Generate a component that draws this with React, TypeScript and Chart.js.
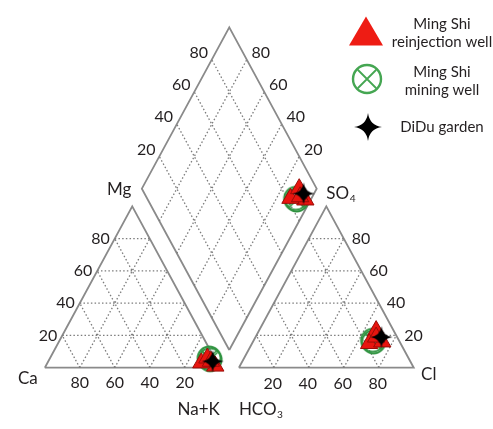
import React, { useEffect, useRef } from "react";
import { Chart, registerables } from "chart.js";

Chart.register(...registerables);

// ---------- data (% meq) ----------
const gridTicks = [20, 40, 60, 80];
const tickLabels = ["20", "40", "60", "80"];

// Ming Shi reinjection well (red triangles)
const reinjCa = [2, 9, 4, 3];
const reinjMg = [1, 3, 6, 4];
const reinjNaK = [97, 88, 90, 93];
const reinjHCO3 = [10, 18, 10, 12];
const reinjSO4 = [23, 15, 16, 19];
const reinjCl = [67, 67, 74, 69];

// Ming Shi mining well (green circle with cross)
const miningCa = [3, 3];
const miningMg = [5, 6];
const miningNaK = [92, 91];
const miningHCO3 = [15, 15];
const miningSO4 = [16, 17];
const miningCl = [69, 68];

// DiDu garden (black star)
const diduCa = [2];
const diduMg = [4];
const diduNaK = [94];
const diduHCO3 = [9];
const diduSO4 = [19];
const diduCl = [72];

const legendNames = [
  ["Ming Shi", "reinjection well"],
  ["Ming Shi", "mining well"],
  ["DiDu garden"],
];

// ---------- geometry (data units) ----------
const H = 86.6025; // triangle height for side 100
const GAP = 11;
const AX = 100 + GAP;
const XMIN = -19.34, XMAX = 250.05, YMIN = -27.0, YMAX = 191.54;

type P = { x: number; y: number };
const catXY = (ca: number, mg: number, nak: number): P => {
  const s = ca + mg + nak;
  const m = (mg / s) * 100, n = (nak / s) * 100;
  return { x: n + m / 2, y: (m * H) / 100 };
};
const anXY = (hco3: number, so4: number, cl: number): P => {
  const s = hco3 + so4 + cl;
  const so = (so4 / s) * 100, c = (cl / s) * 100;
  return { x: AX + c + so / 2, y: (so * H) / 100 };
};
const diaXY = (p1: P, p2: P): P => ({
  x: (p1.x + p2.x) / 2 + (p2.y - p1.y) / (2 * Math.sqrt(3)),
  y: (p1.y + p2.y) / 2 + (Math.sqrt(3) / 2) * (p2.x - p1.x),
});

function seriesPoints(ca: number[], mg: number[], nak: number[], hco3: number[], so4: number[], cl: number[]): P[] {
  const out: P[] = [];
  for (let i = 0; i < ca.length; i++) {
    const p1 = catXY(ca[i], mg[i], nak[i]);
    const p2 = anXY(hco3[i], so4[i], cl[i]);
    out.push(p1, p2, diaXY(p1, p2));
  }
  return out;
}

const GAPPT: P = { x: NaN, y: NaN };
const lerp = (a: P, b: P, f: number): P => ({ x: a.x + (b.x - a.x) * f, y: a.y + (b.y - a.y) * f });

// vertices
const cCa = catXY(100, 0, 0), cNa = catXY(0, 0, 100), cMg = catXY(0, 100, 0);
const aHC = anXY(100, 0, 0), aCl = anXY(0, 0, 100), aSO = anXY(0, 100, 0);
const dB = diaXY(cNa, aHC), dL = diaXY(cMg, aHC), dR = diaXY(cNa, aSO), dT = diaXY(cMg, aSO);

function outlinePts(): P[] {
  return [cCa, cNa, cMg, cCa, GAPPT, aHC, aCl, aSO, aHC, GAPPT, dB, dR, dT, dL, dB];
}
function gridPts(): P[] {
  const pts: P[] = [];
  const seg = (a: P, b: P) => pts.push(a, b, GAPPT);
  for (const k of gridTicks) {
    const r = 100 - k;
    // cation triangle
    seg(catXY(r, k, 0), catXY(0, k, r));
    seg(catXY(k, 0, r), catXY(k, r, 0));
    seg(catXY(r, 0, k), catXY(0, r, k));
    // anion triangle
    seg(anXY(r, k, 0), anXY(0, k, r));
    seg(anXY(k, 0, r), anXY(k, r, 0));
    seg(anXY(r, 0, k), anXY(0, r, k));
    // diamond
    const f = k / 100;
    const p = lerp(dB, dR, f);
    seg(p, { x: p.x + dL.x - dB.x, y: p.y + dL.y - dB.y });
    const q = lerp(dB, dL, f);
    seg(q, { x: q.x + dR.x - dB.x, y: q.y + dR.y - dB.y });
  }
  return pts;
}

// ---------- marker drawing ----------
const GREEN = "#2f9340";
function drawCircleX(g: CanvasRenderingContext2D, cx: number, cy: number, r: number, lw: number, color: string) {
  g.save();
  g.strokeStyle = color;
  g.lineWidth = lw;
  g.beginPath();
  g.arc(cx, cy, r, 0, Math.PI * 2);
  g.stroke();
  const d = r * 0.66;
  g.lineWidth = lw * 0.75;
  g.beginPath();
  g.moveTo(cx - d, cy - d); g.lineTo(cx + d, cy + d);
  g.moveTo(cx + d, cy - d); g.lineTo(cx - d, cy + d);
  g.stroke();
  g.restore();
}
function drawStar(g: CanvasRenderingContext2D, cx: number, cy: number, R: number) {
  const c = R * 0.12;
  g.save();
  g.fillStyle = "#000";
  g.beginPath();
  g.moveTo(cx, cy - R);
  g.quadraticCurveTo(cx + c, cy - c, cx + R, cy);
  g.quadraticCurveTo(cx + c, cy + c, cx, cy + R);
  g.quadraticCurveTo(cx - c, cy + c, cx - R, cy);
  g.quadraticCurveTo(cx - c, cy - c, cx, cy - R);
  g.closePath();
  g.fill();
  g.restore();
}
function drawTri(g: CanvasRenderingContext2D, cx: number, cy: number, w: number, h: number) {
  g.save();
  g.fillStyle = "#ee1c14";
  g.beginPath();
  g.moveTo(cx, cy - h / 2);
  g.lineTo(cx + w / 2, cy + h / 2);
  g.lineTo(cx - w / 2, cy + h / 2);
  g.closePath();
  g.fill();
  g.restore();
}
function makeCanvas(size: number, fn: (g: CanvasRenderingContext2D) => void) {
  const c = document.createElement("canvas");
  c.width = size; c.height = size;
  fn(c.getContext("2d")!);
  return c;
}

const FONT = 'Lato, "Open Sans", sans-serif';
const TXT = "#231f20";

const labelsPlugin = {
  id: "piperLabels",
  afterDraw(chart: any) {
    const g: CanvasRenderingContext2D = chart.ctx;
    const sx = chart.scales.x, sy = chart.scales.y;
    const px = (p: P) => ({ x: sx.getPixelForValue(p.x), y: sy.getPixelForValue(p.y) });
    const text = (s: string, x: number, y: number, align: CanvasTextAlign, size: number) => {
      g.font = `${size}px ${FONT}`;
      g.fillStyle = TXT;
      g.textAlign = align;
      g.textBaseline = "middle";
      g.fillText(s, x, y);
    };
    const sub = (main: string, s: string, x: number, y: number, size: number) => {
      g.font = `${size}px ${FONT}`;
      g.fillStyle = TXT;
      g.textAlign = "left";
      g.textBaseline = "middle";
      g.fillText(main, x, y);
      const w = g.measureText(main).width;
      g.font = `${size * 0.6}px ${FONT}`;
      g.fillText(s, x + w + 0.5, y + size * 0.32);
    };
    g.save();
    gridTicks.forEach((k, i) => {
      const lab = tickLabels[i];
      let p = px(catXY(100 - k, k, 0));
      text(lab, p.x - 5, p.y, "right", 16);
      p = px(catXY(k, 0, 100 - k));
      text(lab, p.x, p.y + 15, "center", 16);
      p = px(anXY(100 - k, 0, k));
      text(lab, p.x - 1, p.y + 16, "center", 16);
      p = px(anXY(0, k, 100 - k));
      text(lab, p.x + 8, p.y, "left", 16);
      p = px(lerp(dL, dT, k / 100));
      text(lab, p.x - 13, p.y - 7, "center", 16);
      p = px(lerp(dR, dT, k / 100));
      text(lab, p.x + 14, p.y - 7, "center", 16);
    });
    let p = px(cMg);
    text("Mg", p.x - 13, p.y - 17, "center", 17);
    p = px(cCa);
    text("Ca", p.x - 17, p.y + 11, "center", 17);
    p = px(cNa);
    text("Na+K", p.x - 21, p.y + 42, "center", 17);
    p = px(aHC);
    sub("HCO", "3", p.x, p.y + 42, 17);
    p = px(aCl);
    text("Cl", p.x + 15, p.y + 7, "center", 17);
    p = px(aSO);
    sub("SO", "4", p.x, p.y - 13, 17);

    // legend
    const lx = 442;
    drawTri(g, 366, 31, 34, 29);
    text(legendNames[0][0], lx, 24, "center", 15);
    text(legendNames[0][1], lx, 42, "center", 15);
    drawCircleX(g, 367, 79, 14, 2.4, "#45a652");
    text(legendNames[1][0], lx, 72, "center", 15);
    text(legendNames[1][1], lx, 90, "center", 15);
    drawStar(g, 368, 127, 14);
    text(legendNames[2][0], lx, 127, "center", 15);
    g.restore();
  },
};

export default function App() {
  const ref = useRef<HTMLCanvasElement>(null);
  useEffect(() => {
    const canvas = ref.current!;
    const starImg = makeCanvas(24, (g) => drawStar(g, 12, 12, 11));
    const circImg = makeCanvas(28, (g) => drawCircleX(g, 14, 14, 11.5, 2, GREEN));
    const chart = new Chart(canvas, {
      type: "scatter",
      data: {
        datasets: [
          {
            label: "DiDu garden",
            data: seriesPoints(diduCa, diduMg, diduNaK, diduHCO3, diduSO4, diduCl),
            pointStyle: starImg as any,
            pointRadius: 10,
          },
          {
            label: "Ming Shi reinjection well",
            data: seriesPoints(reinjCa, reinjMg, reinjNaK, reinjHCO3, reinjSO4, reinjCl),
            pointStyle: "triangle",
            pointRadius: 10,
            backgroundColor: "#e8150f",
            borderColor: "#9a0d08",
            borderWidth: 1,
          },
          {
            label: "Ming Shi mining well",
            data: seriesPoints(miningCa, miningMg, miningNaK, miningHCO3, miningSO4, miningCl),
            pointStyle: circImg as any,
            pointRadius: 10,
          },
          {
            label: "grid",
            data: gridPts(),
            showLine: true,
            pointRadius: 0,
            borderColor: "#7c7c7c",
            borderWidth: 1.3,
            borderDash: [1.5, 2.2],
            spanGaps: false,
          },
          {
            label: "outline",
            data: outlinePts(),
            showLine: true,
            pointRadius: 0,
            borderColor: "#8a8a8a",
            borderWidth: 1.8,
            spanGaps: false,
          },
        ],
      },
      options: {
        animation: false,
        responsive: false,
        events: [],
        layout: { padding: 0 },
        plugins: { legend: { display: false }, tooltip: { enabled: false } },
        scales: {
          x: { type: "linear", min: XMIN, max: XMAX, display: false },
          y: { type: "linear", min: YMIN, max: YMAX, display: false },
        },
      },
      plugins: [labelsPlugin],
    });
    return () => chart.destroy();
  }, []);
  return (
    <div style={{ position: "fixed", left: 0, top: 0, width: 493, height: 429, background: "#fff" }}>
      <canvas ref={ref} width={493} height={429} style={{ display: "block" }} />
    </div>
  );
}
